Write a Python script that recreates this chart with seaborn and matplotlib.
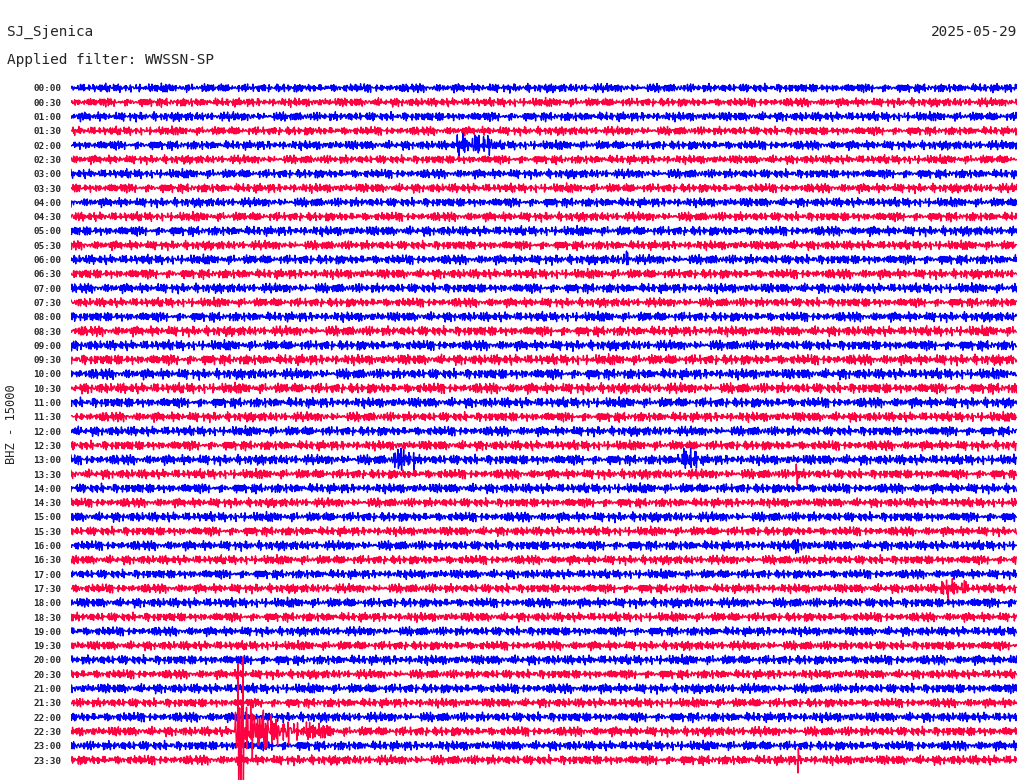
import numpy as np
import seaborn as sns
import matplotlib
matplotlib.use("Agg")
import matplotlib.pyplot as plt

# chart texts
station = "SJ_Sjenica"
day = "2025-05-29"
filter_text = "Applied filter: WWSSN-SP"
channel = "BHZ - 15000"

row_labels = ["%02d:%02d" % (h, m) for h in range(24) for m in (0, 30)]
row_colors = ["#0000ff", "#ff0040"]

# noise level of every 30 min line (in line spacings)
noise_level = [0.19, 0.19, 0.20, 0.19, 0.20, 0.19, 0.20, 0.20,
               0.20, 0.20, 0.21, 0.20, 0.21, 0.21, 0.21, 0.20,
               0.21, 0.22, 0.22, 0.23, 0.23, 0.23, 0.22, 0.21,
               0.21, 0.21, 0.22, 0.21, 0.21, 0.20, 0.21, 0.20,
               0.21, 0.20, 0.20, 0.20, 0.21, 0.20, 0.20, 0.20,
               0.21, 0.20, 0.21, 0.20, 0.21, 0.21, 0.21, 0.21]

# hand read wiggle shapes of the background noise
wiggle_a = [0.12, -0.45, 0.78, -0.23, 0.05, -0.91, 0.34, 0.56, -0.67, 0.21,
            -0.08, 0.43, -0.32, 0.95, -0.54, 0.17, -0.76, 0.29, 0.62, -0.14,
            -0.48, 0.83, -0.05, 0.36, -0.88, 0.51, -0.27, 0.09, 0.71, -0.61,
            0.24, -0.39, 0.47, -0.19, 0.66, -0.73, 0.02, 0.58, -0.44, 0.31,
            -0.97, 0.15, 0.69, -0.26, 0.41, -0.57, 0.08, -0.35, 0.87, -0.12,
            0.53, -0.64, 0.27]
wiggle_b = [-0.33, 0.61, -0.12, 0.44, -0.79, 0.25, 0.07, -0.52, 0.88, -0.36,
            0.19, -0.68, 0.53, -0.04, 0.37, -0.93, 0.46, -0.21, 0.72, -0.58,
            0.11, 0.29, -0.41, 0.64, -0.17, 0.82, -0.49, 0.03, -0.71, 0.38,
            -0.26, 0.57, -0.84, 0.14, 0.49, -0.09, 0.76, -0.62, 0.22, -0.31,
            0.68]

# bursts: (line, start minute, end minute, gain)
bursts = [(4, 12.2, 13.4, 2.6),
          (12, 17.5, 17.8, 1.8),
          (26, 10.2, 10.9, 2.4),
          (26, 19.2, 19.9, 2.3),
          (32, 22.9, 23.3, 1.7),
          (35, 27.6, 28.4, 2.1),
          (45, 5.20, 5.85, 7.0),
          (45, 5.85, 6.4, 4.0),
          (45, 6.4, 7.0, 2.8),
          (45, 7.0, 7.7, 2.1),
          (45, 7.7, 8.3, 1.5)]

# single peaks: (line, minute, value in line spacings)
spikes = [(45, 5.30, 4.75), (45, 5.32, -4.0), (45, 5.45, 5.2), (45, 5.47, -4.2),
          (45, 5.38, -3.6),
          (47, 23.05, -0.9), (47, 23.07, 0.8),
          (27, 23.00, 0.7), (27, 23.03, -0.8),
          (12, 17.62, 0.6)]

n = 1800
minutes = np.arange(n) / 60.0

sns.set_style("white")
plt.rcParams['font.family'] = ['DejaVu Sans Mono']

fig = plt.figure(figsize=(10.24, 7.80), dpi=100)
ax = fig.add_axes([71 / 1024, 0, 946 / 1024, 700 / 780])

wa = np.array(wiggle_a)
wb = np.array(wiggle_b)
k = np.arange(n)
for r in range(len(row_labels)):
    gain = np.ones(n)
    for row, t0, t1, g in bursts:
        if row == r:
            gain[(minutes >= t0) & (minutes < t1)] = g
    trace = noise_level[r] * gain * (wa[(k + 11 * r) % len(wa)] + wb[(k + 7 * r) % len(wb)])
    for row, t, v in spikes:
        if row == r:
            trace[int(round(t * 60))] = v
    sns.lineplot(x=minutes, y=trace - r, color=row_colors[r % 2], linewidth=1.0,
                 estimator=None, sort=False, ax=ax, zorder=3 if r == 45 else 2)

spacing = 14.298
ax.set_xlim(0, 30)
ax.set_ylim(-(780 - 88) / spacing, 8 / spacing)
ax.set_xticks([])
ax.set_yticks(-np.arange(len(row_labels)))
ax.set_yticklabels(row_labels, fontsize=6.7, fontweight='bold')
ax.tick_params(axis='y', length=0, pad=7)
ax.set_xlabel("")
ax.set_ylabel("")
for s in ax.spines.values():
    s.set_visible(False)

fig.text(7 / 1024, 1 - 36 / 780, station, fontsize=10.4, va='baseline', ha='left')
fig.text(1017 / 1024, 1 - 36 / 780, day, fontsize=10.4, va='baseline', ha='right')
fig.text(7 / 1024, 1 - 64 / 780, filter_text, fontsize=10.4, va='baseline', ha='left')
fig.text(12 / 1024, 1 - 424 / 780, channel, fontsize=8.7, rotation=90,
         va='center', ha='center')

fig.savefig("out.png", dpi=100, facecolor="white")
